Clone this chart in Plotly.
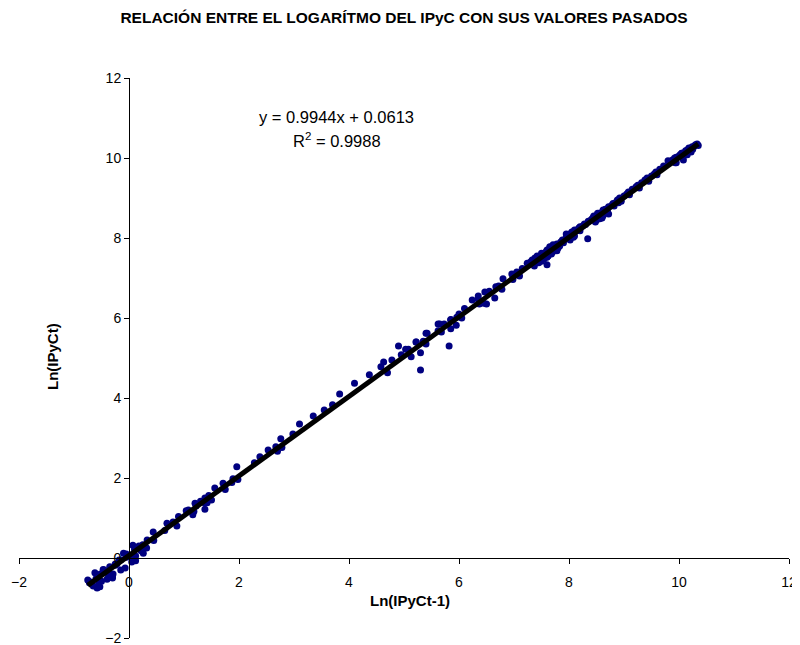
import plotly.graph_objects as go

# Monthly series of ln(IPyC); scatter pairs are (value[t-1], value[t])
ln_ipyc = [
    -0.25, -0.18, -0.05, 0.10, 0.22, 0.18, 0.30, 0.26, 0.12, 0.05, -0.10, 0.12, -0.07, -0.25,
    -0.15, -0.30, -0.47, -0.29, -0.40, -0.53, -0.72, -0.62, -0.37, -0.45, -0.30, -0.50, -0.58,
    -0.75, -0.55, -0.65, -0.70, -0.60, -0.52, -0.40, -0.35, -0.22, -0.15, -0.05, 0.02, 0.07,
    0.32, 0.25, 0.33, 0.45, 0.44,
    0.65, 0.69, 0.87, 0.80, 0.90, 1.04, 1.18, 1.16, 1.08, 1.20, 1.37, 1.38, 1.22, 1.30, 1.42,
    1.38, 1.50, 1.45, 1.56, 1.75, 1.71, 1.87, 1.89, 1.98, 1.96, 2.28,
    2.38, 2.53, 2.70, 2.67, 2.78, 2.76, 2.98, 3.10, 3.35, 3.55, 3.70, 3.83, 4.10, 4.37, 4.58,
    4.78, 4.95, 5.08, 5.22, 5.40, 5.62, 5.85, 5.95, 5.82, 5.30, 4.70, 4.63, 4.90, 5.30, 5.13,
    5.03, 5.22, 5.40, 5.35, 5.42, 5.62, 5.68, 5.65, 5.85, 5.73, 5.85, 5.96, 6.02,
    6.05, 6.00, 6.10, 6.24, 6.45, 6.37, 6.35, 6.47, 6.65, 6.50, 6.35, 6.55, 6.67, 6.78, 6.72,
    6.80, 6.98, 6.96, 7.10, 7.05, 7.15, 7.24, 7.37, 7.30, 7.40,
    7.45, 7.50, 7.42, 7.55, 7.60, 7.52, 7.58, 7.65, 7.62, 7.55, 7.48, 7.52, 7.60, 7.70, 7.66,
    7.72, 7.71, 7.83, 7.80, 7.75, 7.78, 7.68, 7.60, 7.33, 7.45, 7.38, 7.50, 7.62, 7.70, 7.65,
    7.78, 7.85, 7.90, 7.88, 7.95, 8.02, 8.10, 8.05, 8.15, 8.20, 8.18, 8.25, 8.30, 8.34, 7.98,
    8.08, 8.02, 7.95, 8.10, 8.20, 8.28, 8.35, 8.42, 8.48, 8.45, 8.55, 8.60, 8.52, 8.62, 8.70,
    8.66, 8.72, 8.60, 8.50, 8.45, 8.52, 8.58, 8.62, 8.56, 8.48, 8.40, 8.45, 8.52, 8.50, 8.55,
    8.62, 8.68, 8.72, 8.78, 8.82, 8.80, 8.86, 8.90, 8.88, 8.95, 8.92, 9.00, 9.05, 9.10, 9.08,
    9.15, 9.22, 9.28, 9.25, 9.32, 9.38, 9.45, 9.42, 9.50, 9.55, 9.60, 9.58, 9.65, 9.72, 9.80,
    9.93, 9.88, 9.95, 10.02, 10.08, 10.05, 10.12, 10.15, 10.20, 10.18, 10.25, 10.22, 10.15,
    10.08, 9.95, 9.88, 9.92, 10.00, 10.05, 10.12, 10.18, 10.24, 10.28, 10.30, 10.33, 10.35,
    10.31,
]
ln_prev = ln_ipyc[:-1]   # Ln(IPyCt-1)
ln_curr = ln_ipyc[1:]    # Ln(IPyCt)

trend_slope = 0.9944
trend_intercept = 0.0613
r_squared = 0.9988

tick_values = [-2, 0, 2, 4, 6, 8, 10, 12]
axis_range = [-2, 12]

title_text = "RELACIÓN ENTRE EL LOGARÍTMO DEL IPyC CON SUS VALORES PASADOS"
x_title = "Ln(IPyCt-1)"
y_title = "Ln(IPyCt)"

FONT = "Liberation Sans, Arial, sans-serif"

trend_x = [min(ln_prev), max(ln_prev)]
trend_y = [trend_slope * v + trend_intercept for v in trend_x]

fig = go.Figure()
fig.add_trace(go.Scatter(
    x=ln_prev, y=ln_curr, mode="markers",
    marker=dict(color="#000080", size=7, line=dict(width=0)),
    showlegend=False, hoverinfo="x+y", cliponaxis=False,
))
fig.add_trace(go.Scatter(
    x=trend_x, y=trend_y, mode="lines",
    line=dict(color="black", width=5),
    showlegend=False, hoverinfo="skip",
))

zero_pos = (0 - axis_range[0]) / (axis_range[1] - axis_range[0])

# The page body adds an 8px offset, so the figure is 792x637 to fill the 800x645 window
FIG_W, FIG_H = 792, 637

axis_common = dict(
    range=axis_range, tickvals=tick_values, showgrid=False, zeroline=False,
    showline=True, linecolor="black", linewidth=1,
    ticks="outside", ticklen=5, tickcolor="black", automargin=False,
    anchor="free", position=zero_pos, ticklabeloverflow="allow",
    layer="above traces",
    tickfont=dict(family=FONT, size=14, color="black"),
)

fig.update_layout(
    width=FIG_W, height=FIG_H,
    margin=dict(l=11, r=11, t=70, b=7, autoexpand=False),
    paper_bgcolor="white", plot_bgcolor="white",
    font=dict(family=FONT, size=14, color="black"),
    title=dict(text="<b>" + title_text + "</b>", x=0.5, xanchor="center",
               y=1 - 10 / FIG_H, yanchor="middle", yref="container",
               font=dict(family=FONT, size=15.5, color="black")),
    xaxis=dict(axis_common, ticklabelstandoff=6),
    yaxis=dict(axis_common, ticklabelstandoff=0),
    annotations=[
        dict(text=f"y = {trend_slope}x + {trend_intercept}", x=3.78, y=11.03,
             xref="x", yref="y", showarrow=False, xanchor="center", yanchor="middle",
             font=dict(family=FONT, size=16.5, color="black")),
        dict(text=f"R<sup>2</sup> = {r_squared}", x=3.78, y=10.45,
             xref="x", yref="y", showarrow=False, xanchor="center", yanchor="middle",
             font=dict(family=FONT, size=16.5, color="black")),
        dict(text="<b>" + x_title + "</b>", x=(410 - 19) / 770, y=(638 - 600) / 560,
             xref="paper", yref="paper", showarrow=False, xanchor="center", yanchor="middle",
             font=dict(family=FONT, size=15, color="black")),
        dict(text="<b>" + y_title + "</b>", x=(52 - 19) / 770, y=(638 - 357) / 560,
             xref="paper", yref="paper", showarrow=False, xanchor="center", yanchor="middle",
             textangle=-90, font=dict(family=FONT, size=15, color="black")),
    ],
)

fig.write_html("out.html")
